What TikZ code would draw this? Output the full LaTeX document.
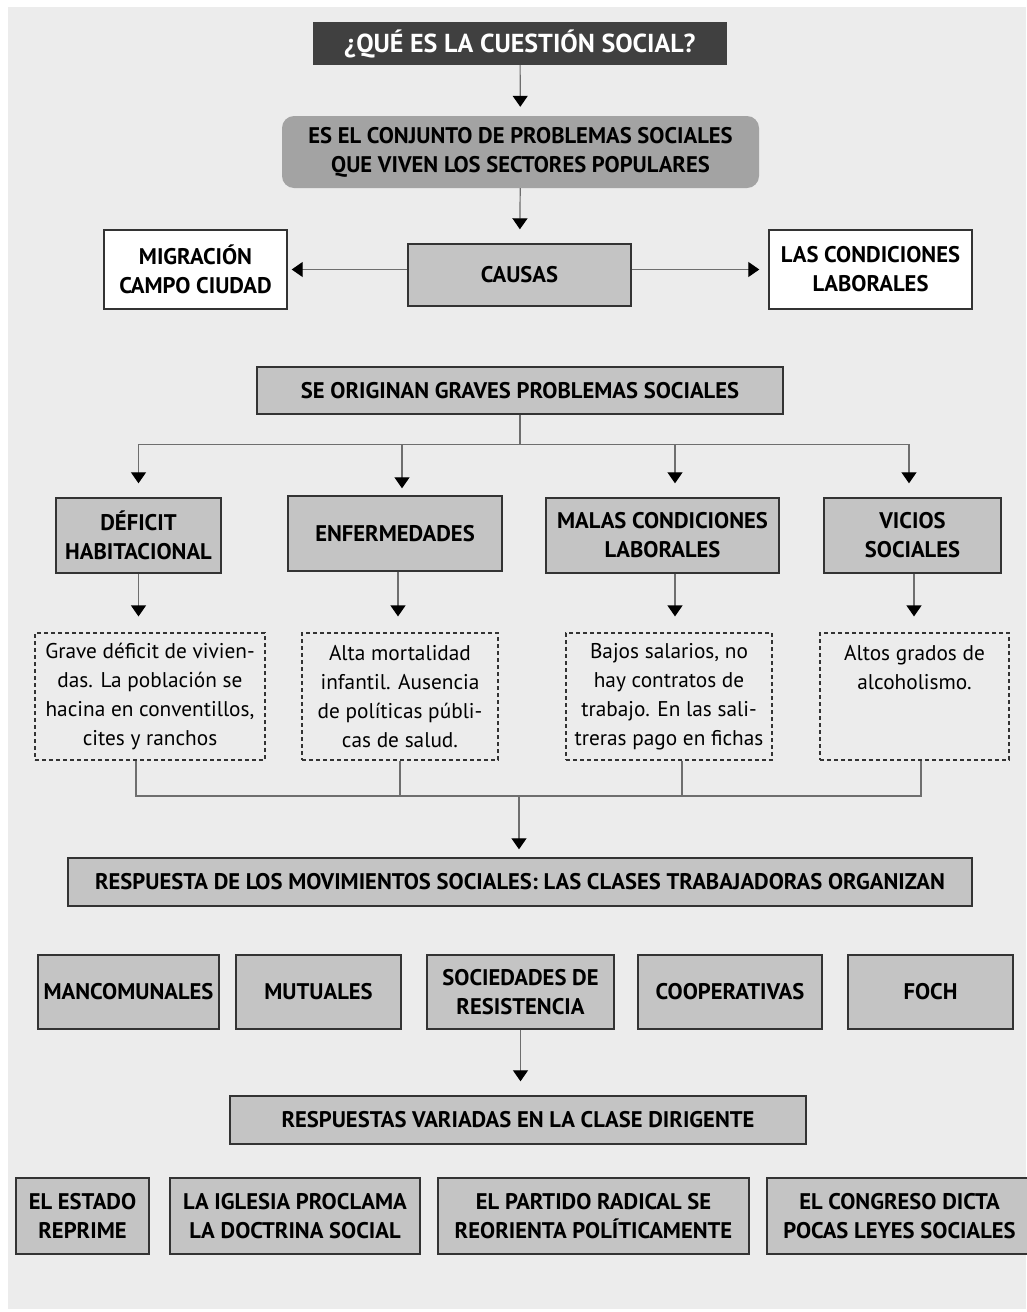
\documentclass[tikz,border=0pt]{standalone}
\usepackage{fontspec}
\setmainfont{PT Sans}
\usetikzlibrary{arrows.meta,positioning}

\definecolor{bgcol}{HTML}{ECECEC}
\definecolor{boxcol}{HTML}{C4C4C4}
\definecolor{darkcol}{HTML}{404040}
\definecolor{roundcol}{HTML}{A3A3A3}
\definecolor{edgecol}{HTML}{333333}
\definecolor{linecol}{HTML}{6E6E6E}

\newcommand{\boxfont}{\fontsize{22.6}{29}\selectfont}
\newcommand{\notefont}{\fontsize{21.3}{29}\selectfont}

\begin{document}
\begin{tikzpicture}[
    x=1pt, y=-1pt,
    every node/.style={align=center, inner sep=0pt},
    title node/.style={rectangle, fill=darkcol, text=white, font=\fontsize{26}{30}\selectfont\bfseries},
    round node/.style={rectangle, rounded corners=12pt, fill=roundcol, font=\boxfont\bfseries},
    grey node/.style={rectangle, fill=boxcol, draw=edgecol, line width=1.4pt, font=\boxfont\bfseries},
    white node/.style={rectangle, fill=white, draw=edgecol, line width=1.4pt, font=\boxfont\bfseries},
    note node/.style={rectangle, draw=edgecol, line width=1.2pt, dash pattern=on 4pt off 3pt, font=\notefont, minimum height=127pt},
    line/.style={draw=linecol, line width=1.2pt},
    arrow/.style={line, -{Triangle[width=15pt,length=11pt,color=black]}}
]

% Background
\useasboundingbox (0,0) rectangle (1026,1312);
\fill[bgcol] (8,7) rectangle (1026,1309);

% Question
\node[title node, minimum width=414pt, minimum height=43pt] (title) at (520,43.5) {¿QUÉ ES LA CUESTIÓN SOCIAL?};
\node[round node, minimum width=477pt, minimum height=72pt] (conj) at (520.5,152) {ES EL CONJUNTO DE PROBLEMAS SOCIALES\\QUE VIVEN LOS SECTORES POPULARES};

% Causes
\node[grey node, minimum width=223pt, minimum height=62pt] (causas) at (519.5,275) {CAUSAS};
\node[white node, minimum width=183pt, minimum height=79pt] (migr) at (195.5,269.5) {MIGRACIÓN\\CAMPO CIUDAD};
\node[white node, minimum width=203pt, minimum height=79pt] (cond) at (870.5,269.5) {LAS CONDICIONES\\LABORALES};

% Problems
\node[grey node, minimum width=526pt, minimum height=47pt] (orig) at (520,390.5) {SE ORIGINAN GRAVES PROBLEMAS SOCIALES};
\node[grey node, minimum width=165pt, minimum height=75pt] (deficit) at (138.5,535.5) {DÉFICIT\\HABITACIONAL};
\node[grey node, minimum width=214pt, minimum height=75pt] (enferm) at (395,533.5) {ENFERMEDADES};
\node[grey node, minimum width=233pt, minimum height=75pt] (malas) at (662.5,535.5) {MALAS CONDICIONES\\LABORALES};
\node[grey node, minimum width=177pt, minimum height=75pt] (vicios) at (912.5,535.5) {VICIOS\\SOCIALES};

% Details
\node[note node, minimum width=230pt] (note1) at (150,696.5) {Grave déficit de vivien-\\das. La población se\\hacina en conventillos,\\cites y ranchos};
\node[note node, minimum width=196pt] (note2) at (400,696.5) {Alta mortalidad\\infantil. Ausencia\\de políticas públi-\\cas de salud.};
\node[note node, minimum width=206pt] (note3) at (669,696.5) {Bajos salarios, no\\hay contratos de\\trabajo. En las sali-\\treras pago en fichas};
\node[note node, minimum width=189pt] (note4) at (914.5,696.5) {Altos grados de\\alcoholismo.\\\mbox{}\\\mbox{}};

% Workers
\node[grey node, minimum width=904pt, minimum height=48pt] (resp) at (520,882) {RESPUESTA DE LOS MOVIMIENTOS SOCIALES: LAS CLASES TRABAJADORAS ORGANIZAN};
\node[grey node, minimum width=181pt, minimum height=74pt] (manc) at (128.5,992) {MANCOMUNALES};
\node[grey node, minimum width=165pt, minimum height=74pt] (mutu) at (318.5,992) {MUTUALES};
\node[grey node, minimum width=187pt, minimum height=74pt] (socied) at (520.5,992) {SOCIEDADES DE\\RESISTENCIA};
\node[grey node, minimum width=184pt, minimum height=74pt] (coop) at (730,992) {COOPERATIVAS};
\node[grey node, minimum width=165pt, minimum height=74pt] (foch) at (930.5,992) {FOCH};

% Ruling class
\node[grey node, minimum width=576pt, minimum height=48pt] (variadas) at (518,1120) {RESPUESTAS VARIADAS EN LA CLASE DIRIGENTE};
\node[grey node, minimum width=133pt, minimum height=76pt] (estado) at (82.5,1216) {EL ESTADO\\REPRIME};
\node[grey node, minimum width=250pt, minimum height=76pt] (iglesia) at (295,1216) {LA IGLESIA PROCLAMA\\LA DOCTRINA SOCIAL};
\node[grey node, minimum width=311pt, minimum height=76pt] (partido) at (593.5,1216) {EL PARTIDO RADICAL SE\\REORIENTA POLÍTICAMENTE};
\node[grey node, minimum width=265pt, minimum height=76pt] (congreso) at (899.5,1216) {EL CONGRESO DICTA\\POCAS LEYES SOCIALES};

% Arrows
\draw[arrow, shorten >=9pt] (title) -- (conj);
\draw[arrow, shorten >=14pt] (conj) -- (causas);
\draw[arrow, shorten >=4pt] (causas.west |- migr) -- (migr);
\draw[arrow, shorten >=9pt] (causas.east |- cond) -- (cond);

\draw[line] (orig.south) -- ++(0,30) coordinate (split);
\draw[arrow, shorten >=14pt] (split) -| (deficit.north);
\draw[arrow, shorten >=7pt] (split) -| ([xshift=7pt]enferm.north);
\draw[arrow, shorten >=14pt] (split) -| ([xshift=12.5pt]malas.north);
\draw[arrow, shorten >=14pt] (split) -| ([xshift=-3.5pt]vicios.north);

\draw[arrow, shorten >=16pt] (deficit) -- (deficit |- note1.north);
\draw[arrow, shorten >=16pt] ([xshift=3pt]enferm.south) -- ([xshift=3pt]enferm.south |- note2.north);
\draw[arrow, shorten >=16pt] ([xshift=12.5pt]malas.south) -- ([xshift=12.5pt]malas.south |- note3.north);
\draw[arrow, shorten >=16pt] ([xshift=1.5pt]vicios.south) -- ([xshift=1.5pt]vicios.south |- note4.north);

\coordinate (join) at (519,796);
\draw[line] ([xshift=-14pt]note1.south) |- (join);
\draw[line] (note2.south) |- (join);
\draw[line] ([xshift=13pt]note3.south) |- (join);
\draw[line] ([xshift=6.5pt]note4.south) |- (join);
\draw[arrow, shorten >=8pt] (join) -- (join |- resp.north);

\draw[arrow, shorten >=14pt] (socied) -- (socied |- variadas.north);

\end{tikzpicture}
\end{document}
